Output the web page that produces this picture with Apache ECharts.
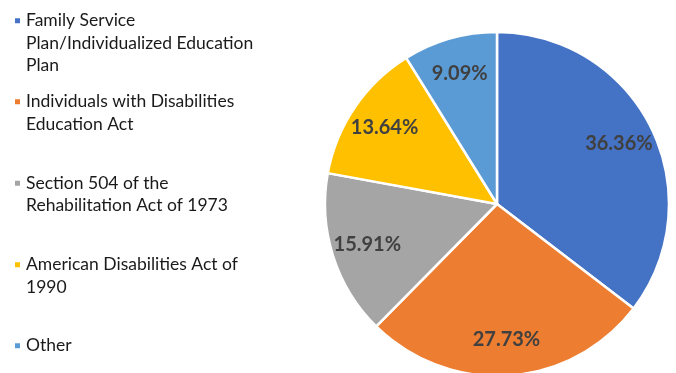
<!DOCTYPE html>
<html>
<head>
<meta charset="utf-8">
<script src="https://cdn.jsdelivr.net/npm/echarts@6/dist/echarts.min.js"></script>
<style>
  html, body { margin: 0; padding: 0; background: #ffffff; }
  #chart { width: 676px; height: 373px; }
</style>
</head>
<body>
<div id="chart"></div>
<script>
// Legislation cited, share of responses (%)
const categories = [
  'Family Service Plan/Individualized Education Plan',
  'Individuals with Disabilities Education Act',
  'Section 504 of the Rehabilitation Act of 1973',
  'American Disabilities Act of 1990',
  'Other'
];
const legendLines = [
  ['Family Service', 'Plan/Individualized Education', 'Plan'],
  ['Individuals with Disabilities', 'Education Act'],
  ['Section 504 of the', 'Rehabilitation Act of 1973'],
  ['American Disabilities Act of', '1990'],
  ['Other']
];
const shares = [36.36, 27.73, 15.91, 13.64, 9.09];
const colors = ['#4472C4', '#ED7D31', '#A5A5A5', '#FFC000', '#5B9BD5'];

const FONT = 'Lato, "Open Sans", sans-serif';
const LINE_H = 22.5;
const legendTops = [9.5, 90.5, 172, 253.5, 334.5];

const pieData = categories.map((name, i) => ({
  name: name,
  value: shares[i],
  itemStyle: { color: colors[i] }
}));

// One legend block per entry so each keeps its own slot; the marker sits on the first line.
const legends = categories.map((name, i) => {
  const lines = legendLines[i];
  const pad = [];
  for (let k = 1; k < lines.length; k++) pad.push('');
  const text = pad.concat(lines).join('\n');
  return {
    orient: 'vertical',
    left: 13,
    top: legendTops[i] - (lines.length - 1) * LINE_H,
    data: [name],
    selectedMode: false,
    icon: 'rect',
    itemWidth: 7,
    itemHeight: 7,
    itemGap: 0,
    padding: 0,
    formatter: () => text,
    textStyle: {
      fontFamily: FONT,
      fontSize: 17.5,
      lineHeight: LINE_H,
      color: '#1a1a1a'
    }
  };
});

const chart = echarts.init(document.getElementById('chart'), null, { renderer: 'canvas' });
chart.setOption({
  animation: false,
  backgroundColor: '#ffffff',
  legend: legends,
  series: [
    {
      type: 'pie',
      center: [497, 204],
      radius: [0, 172],
      startAngle: 90,
      clockwise: true,
      silent: true,
      label: { show: false },
      labelLine: { show: false },
      itemStyle: { borderColor: '#ffffff', borderWidth: 2.5 },
      data: pieData
    },
    {
      // transparent ring that carries the percentage labels
      type: 'pie',
      center: [497, 204],
      radius: [94, 172],
      startAngle: 90,
      clockwise: true,
      silent: true,
      itemStyle: { color: 'rgba(0,0,0,0)', borderWidth: 0 },
      label: {
        show: true,
        position: 'inside',
        formatter: p => p.value.toFixed(2) + '%',
        fontFamily: FONT,
        fontWeight: 'bold',
        fontSize: 20,
        color: '#404040'
      },
      labelLine: { show: false },
      data: shares.map((v, i) => ({ name: categories[i], value: v }))
    }
  ]
});
</script>
</body>
</html>
